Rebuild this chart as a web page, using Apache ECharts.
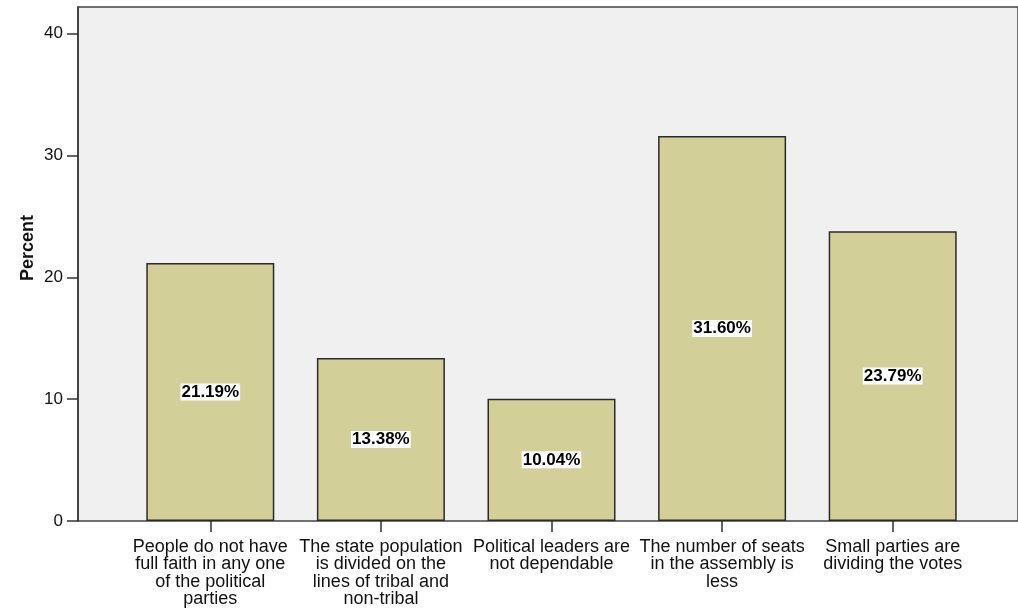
<!DOCTYPE html>
<html>
<head>
<meta charset="utf-8">
<title>Percent by reason</title>
<script src="https://cdn.jsdelivr.net/npm/echarts@6/dist/echarts.min.js"></script>
<style>
  html, body { margin: 0; padding: 0; background: #ffffff; }
  #chart { width: 1018px; height: 611px; }
</style>
</head>
<body>
<div id="chart"></div>
<script>
// Reasons given and the share of respondents (percent) choosing each
const categories = [
  'People do not have\nfull faith in any one\nof the political\nparties',
  'The state population\nis divided on the\nlines of tribal and\nnon-tribal',
  'Political leaders are\nnot dependable',
  'The number of seats\nin the assembly is\nless',
  'Small parties are\ndividing the votes'
];
const percentValues = [21.19, 13.38, 10.04, 31.60, 23.79];
const yTicks = [0, 10, 20, 30, 40];

const FONT = '"Liberation Sans", Arial, sans-serif';
const TEXT = '#111111';
const Y_MAX = 42.2;

const chart = echarts.init(document.getElementById('chart'));

chart.setOption({
  animation: false,
  backgroundColor: '#ffffff',
  grid: [
    // bars
    { left: 125, right: 40, top: 7, bottom: 90, show: false },
    // framed plot area with the value axis
    {
      left: 78, right: -10, top: 7, bottom: 90, show: true,
      backgroundColor: '#f0f0f0', borderColor: '#444444', borderWidth: 1.5, z: 0
    }
  ],
  xAxis: [
    {
      type: 'category',
      gridIndex: 0,
      data: categories,
      boundaryGap: true,
      axisLine: { show: false },
      axisTick: { show: true, alignWithLabel: true, length: 11, inside: false,
                  lineStyle: { color: '#333333', width: 1.5 } },
      axisLabel: {
        interval: 0, margin: 17, color: TEXT, fontFamily: FONT, fontSize: 18,
        lineHeight: 17.5, align: 'center'
      },
      splitLine: { show: false }
    },
    { type: 'value', gridIndex: 1, show: false }
  ],
  yAxis: [
    { type: 'value', gridIndex: 0, min: 0, max: Y_MAX, show: false },
    {
      type: 'value', gridIndex: 1, min: 0, max: Y_MAX, interval: 10,
      axisLine: { show: true, lineStyle: { color: '#333333', width: 1.5 } },
      axisTick: { show: true, length: 11, inside: false,
                  lineStyle: { color: '#333333', width: 1.5 } },
      axisLabel: {
        margin: 15, color: TEXT, fontFamily: FONT, fontSize: 17,
        showMaxLabel: false,
        formatter: v => (yTicks.indexOf(v) >= 0 ? String(v) : '')
      },
      splitLine: { show: false }
    }
  ],
  graphic: [
    {
      // vertical axis title
      type: 'text',
      x: 28, y: 248,
      rotation: Math.PI / 2,
      style: {
        text: 'Percent', fill: TEXT, font: 'bold 18px ' + FONT,
        align: 'center', verticalAlign: 'middle'
      }
    }
  ],
  series: [
    {
      type: 'bar',
      xAxisIndex: 0, yAxisIndex: 0,
      data: percentValues,
      barWidth: 128,
      z: 5,
      itemStyle: { color: '#d3cf98', borderColor: '#2b2b2b', borderWidth: 1.5 },
      label: {
        show: true, position: 'inside',
        formatter: p => p.value.toFixed(2) + '%',
        color: '#000000', fontFamily: FONT, fontWeight: 'bold', fontSize: 17,
        backgroundColor: '#ffffff', padding: [1, 1, 0, 1], lineHeight: 16
      }
    }
  ]
});
</script>
</body>
</html>
